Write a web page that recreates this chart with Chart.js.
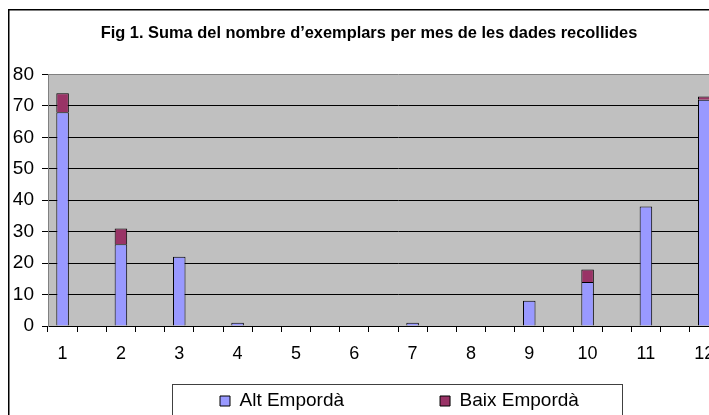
<!DOCTYPE html>
<html>
<head>
<meta charset="utf-8">
<script src="https://cdn.jsdelivr.net/npm/chart.js@4.4.1/dist/chart.umd.min.js"></script>
<style>
  html, body { margin: 0; padding: 0; background: #ffffff; overflow: hidden; width: 709px; height: 415px; }
  #wrap { position: absolute; left: 0; top: 0; width: 760px; height: 415px; }
</style>
</head>
<body>
<div id="wrap"><canvas id="c" width="760" height="415"></canvas></div>
<script>
// ---- data ----
const months = ['1', '2', '3', '4', '5', '6', '7', '8', '9', '10', '11', '12'];
const altEmporda  = [68, 26, 22, 1, 0, 0, 1, 0, 8, 14, 38, 72];
const baixEmporda = [6, 5, 0, 0, 0, 0, 0, 0, 0, 4, 0, 1];
const yTicks = [0, 10, 20, 30, 40, 50, 60, 70, 80];
const titleText = 'Fig 1. Suma del nombre d\u2019exemplars per mes de les dades recollides';
const seriesNames = ['Alt Empord\u00e0', 'Baix Empord\u00e0'];

// each month occupies two category slots (labelled slot + blank slot)
const slotLabels = [];
const altSlots = [];
const baixSlots = [];
months.forEach((m, i) => {
  slotLabels.push(m, '');
  altSlots.push(altEmporda[i] === 0 ? null : altEmporda[i], null);
  baixSlots.push(baixEmporda[i] === 0 ? null : baixEmporda[i], null);
});

const FONT = "'Liberation Sans', Arial, sans-serif";
const LEG_PAD = 96;

const decor = {
  id: 'decor',
  afterLayout(chart) {
    const t = chart.titleBlock;
    if (t) { t.left = 0; t.right = 738; }
    const lg = chart.legend;
    if (lg) {
      lg.left = 220 - LEG_PAD;
      lg.right = 705;
      lg.top = 391.5 - LEG_PAD;
      lg.bottom = 415;
      lg.width = lg.right - lg.left;
      lg.height = lg.bottom - lg.top;
    }
  },
  beforeDraw(chart) {
    const {ctx, chartArea: a} = chart;
    ctx.save();
    ctx.fillStyle = '#ffffff';
    ctx.fillRect(0, 0, chart.width, chart.height);
    ctx.fillStyle = '#c0c0c0';
    ctx.fillRect(a.left, a.top, a.right - a.left, a.bottom - a.top);
    ctx.restore();
  },
  afterDraw(chart) {
    const ctx = chart.ctx;
    ctx.save();
    ctx.strokeStyle = '#000000';
    ctx.lineWidth = 1.5;
    ctx.strokeRect(8.75, 9.75, 2000, 2000);
    ctx.strokeStyle = '#404040';
    ctx.lineWidth = 1;
    ctx.strokeRect(172.5, 384.5, 450, 100);
    ctx.restore();
  }
};

new Chart(document.getElementById('c'), {
  type: 'bar',
  data: {
    labels: slotLabels,
    datasets: [
      { label: seriesNames[0], data: altSlots, backgroundColor: '#9999ff', borderColor: '#000000', borderWidth: 1 },
      { label: seriesNames[1], data: baixSlots, backgroundColor: '#993366', borderColor: '#000000', borderWidth: 1 }
    ]
  },
  options: {
    responsive: false,
    animation: false,
    devicePixelRatio: 1,
    layout: { padding: { left: 0, right: 12, top: 0, bottom: 0 } },
    datasets: { bar: { barPercentage: 0.43, categoryPercentage: 1.0 } },
    plugins: {
      title: {
        display: true,
        text: titleText,
        color: '#000000',
        font: { family: FONT, size: 16.4, weight: 'bold' },
        padding: { top: 24, bottom: 30.8 }
      },
      legend: {
        display: true,
        position: 'chartArea',
        align: 'start',
        labels: {
          boxWidth: 10,
          boxHeight: 10,
          padding: LEG_PAD,
          color: '#000000',
          font: { family: FONT, size: 19 }
        }
      },
      tooltip: { enabled: false }
    },
    scales: {
      x: {
        stacked: true,
        offset: true,
        afterFit(s) { s.height = 89; },
        grid: { display: true, drawOnChartArea: false, drawTicks: true, tickLength: 6, color: '#000000', offset: true },
        border: { display: true, color: '#000000', width: 1 },
        ticks: { autoSkip: false, maxRotation: 0, minRotation: 0, padding: 11, color: '#000000', font: { family: FONT, size: 18 } }
      },
      y: {
        stacked: true,
        min: 0,
        max: 80,
        afterFit(s) { s.width = 48; },
        afterBuildTicks(s) { s.ticks = yTicks.map(v => ({ value: v })); },
        grid: {
          display: true,
          drawTicks: true,
          tickLength: 6,
          color: (c) => (c.tick && c.tick.value === 80) ? '#808080' : '#000000',
          tickColor: '#000000',
          lineWidth: 1
        },
        border: { display: true, color: '#808080', width: 1 },
        ticks: { padding: 8, color: '#000000', font: { family: FONT, size: 19 } }
      }
    }
  },
  plugins: [decor]
});
</script>
</body>
</html>
